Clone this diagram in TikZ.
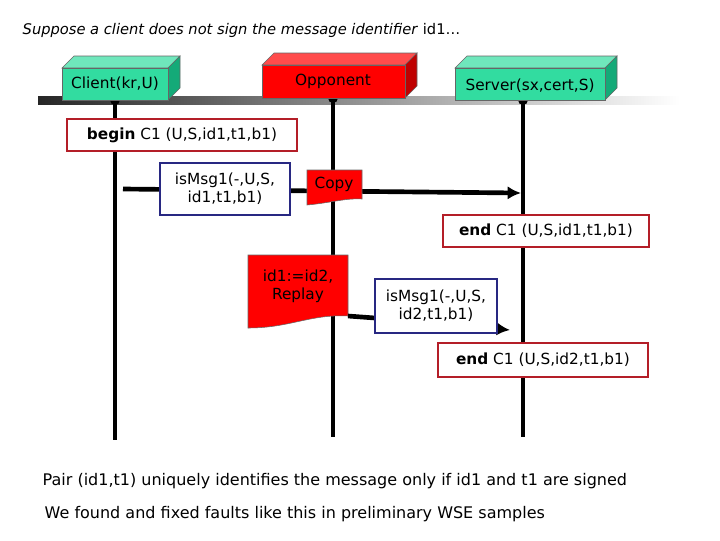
\documentclass[tikz,border=0pt]{standalone}
\usepackage{fontspec}
\setmainfont{DejaVu Sans}
\usetikzlibrary{arrows.meta}
\begin{document}
\begin{tikzpicture}[x=0.75pt,y=-0.75pt,
  lab/.style={font=\fontsize{11.5}{13.5}\selectfont},
  redbox/.style={draw={rgb,255:red,180;green,30;blue,40},line width=1.6pt,fill=white,inner sep=0pt},
  bluebox/.style={draw={rgb,255:red,40;green,40;blue,130},line width=1.6pt,fill=white,inner sep=0pt},
  life/.style={line width=2.6pt},
  msg/.style={line width=3.5pt,-{Latex[length=10pt,width=10pt]}}]
\useasboundingbox (0,0) rectangle (720,540);
\definecolor{grn}{RGB}{50,220,160}
\definecolor{grnd}{RGB}{20,170,120}
% bar
\shade[left color=black!85, right color=white] (38,96) rectangle (680,104);
% lifelines
\draw[life] (115,100) -- (115,440);
\draw[life] (333,98) -- (333,437);
\draw[life] (523,100) -- (523,437);
\foreach \x/\y in {115/100,333/98,523/100} \fill (\x,\y) circle (5);
% 3D boxes
\newcommand{\mybox}[6]{%
 \fill[#5!70!white,draw=black!60] (#1,#2) -- ++(12,-12) -- ++(#3,0) -- ++(-12,12) -- cycle;
 \fill[#6,draw=black!60] (#1+#3,#2) -- ++(12,-12) -- ++(0,#4) -- ++(-12,12) -- cycle;
 \fill[#5,draw=black!60] (#1,#2) rectangle ++(#3,#4);}
\mybox{62}{68}{106}{32}{grn}{grnd}
\mybox{262}{65}{143}{33}{red}{red!75!black}
\mybox{455}{68}{150}{32}{grn}{grnd}
\node[lab] (cl) at (115,84) {Client(kr,U)};
\node[lab] (op) at (333,81) {Opponent};
\node[lab] (sv) at (530,86) {Server(sx,cert,S)};
% title
\node[lab,anchor=west,font=\fontsize{11}{13}\selectfont] (title) at (18,30) {\textit{Suppose a client does not sign the message identifier} id1\dots};
% begin
\node[redbox,lab,minimum width=172.5pt,minimum height=24pt] (b1) at (182,135) {\textbf{begin} C1 (U,S,id1,t1,b1)};
% message 1
\coordinate (m1s) at (123,189);
\coordinate (m1e) at (521,193);
\draw[msg] (m1s) -- (m1e);
\node[bluebox,lab,align=center,minimum width=97.5pt,minimum height=39pt] (msg1) at (225,189) {isMsg1(-,U,S,\\id1,t1,b1)};
\fill[red,draw=black!60] (307,170) -- (362,170) -- (362,199) .. controls (345,198) and (330,203) .. (307,205) -- cycle;
\node[lab] (copy) at (334,184) {Copy};
% end 1
\node[redbox,lab,minimum width=155pt,minimum height=24pt] (e1) at (546,231) {\textbf{end} C1 (U,S,id1,t1,b1)};
% replay
\fill[red,draw=black!60] (248,255) -- (348,255) -- (348,316) .. controls (310,314) and (290,328) .. (248,328) -- cycle;
\node[lab,align=center] (rep) at (298,286) {id1:=id2,\\Replay};
\coordinate (m2s) at (348,316);
\coordinate (m2e) at (510,330);
\draw[msg] (m2s) -- (375,318) (498,329) -- (m2e);
\node[bluebox,lab,align=center,minimum width=92pt,minimum height=40pt] (msg2) at (436,306) {isMsg1(-,U,S,\\id2,t1,b1)};
\node[redbox,lab,minimum width=157.5pt,minimum height=25pt] (e2) at (543,360) {\textbf{end} C1 (U,S,id2,t1,b1)};
% bottom
\node[lab,anchor=west,font=\fontsize{12}{14}\selectfont] (p) at (38,481) {Pair (id1,t1) uniquely identifies the message only if id1 and t1 are signed};
\node[lab,anchor=west,font=\fontsize{12}{14}\selectfont] (w) at (40,514) {We found and fixed faults like this in preliminary WSE samples};
\end{tikzpicture}
\end{document}
